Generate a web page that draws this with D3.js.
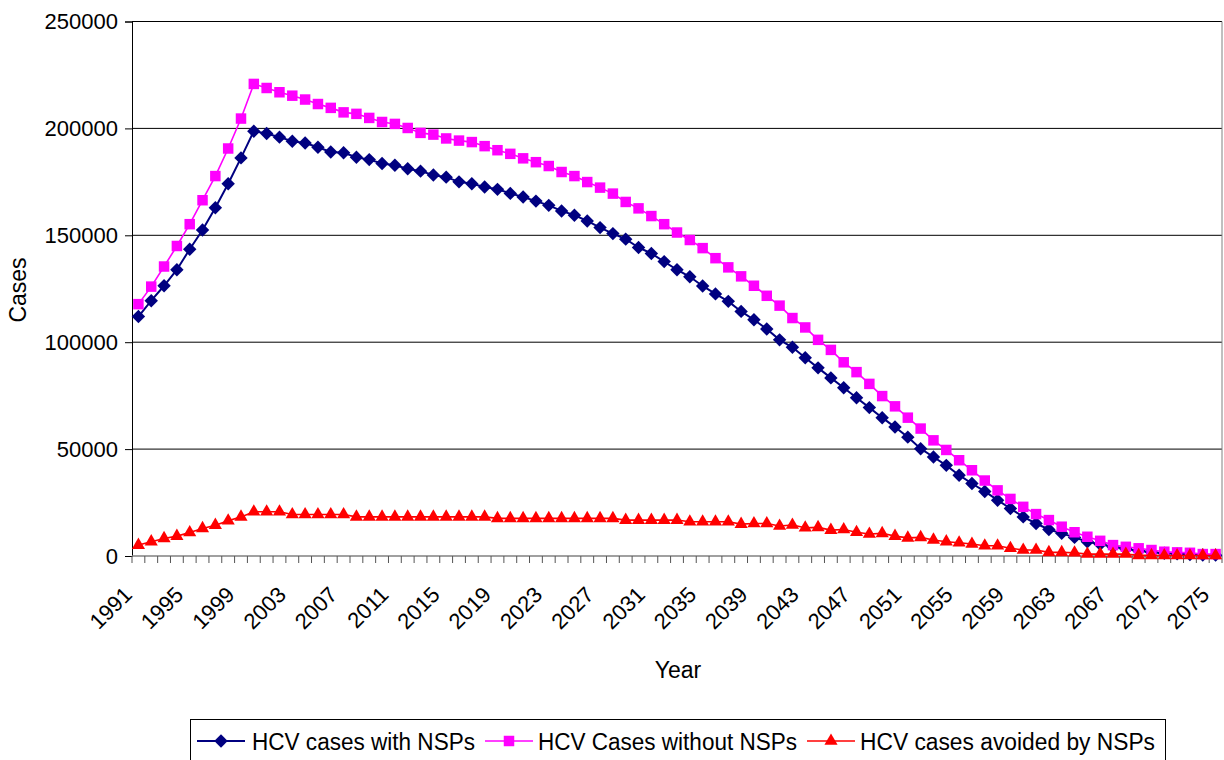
<!DOCTYPE html>
<html>
<head>
<meta charset="utf-8">
<script src="https://cdn.jsdelivr.net/npm/d3@7"></script>
<style>
  body { margin: 0; background: #fff; }
  svg text { font-family: "Liberation Sans", Arial, sans-serif; fill: #000; }
</style>
</head>
<body>
<div id="main"></div>
<script>
'use strict';

// years 1991..2075
var years = [];
for (var yr = 1991; yr <= 2075; yr++) years.push(yr);

// values
var withNSP = [
  112000, 119400, 126400, 133900, 143500, 152500, 162900, 174100, 186200, 198700,
  197600, 195900, 194000, 193200, 191200, 189000, 188600, 186500, 185400, 183600,
  182800, 181100, 180000, 178200, 177200, 175000, 174100, 172600, 171500, 169600,
  167900, 166000, 164000, 161400, 159400, 156700, 153600, 150800, 148200, 144300,
  141500, 137700, 133900, 130600, 126300, 122600, 119100, 114400, 110500, 106200,
  101100, 97600, 92700, 88000, 83300, 78700, 74000, 69400, 64700, 60300,
  55600, 50200, 46300, 42400, 37800, 33900, 30200, 26100, 22200, 18300,
  15200, 12400, 10600, 8700, 6700, 5500, 4300, 3300, 2500, 1800,
  1300, 1000, 700, 500, 400
];
var withoutNSP = [
  117800, 126000, 135400, 145000, 155200, 166400, 177700, 190600, 204600, 220800,
  218900, 216900, 215300, 213500, 211400, 209600, 207500, 206800, 204900, 203000,
  202100, 200200, 197900, 197100, 195300, 194300, 193600, 191700, 189800, 188100,
  186000, 184200, 182400, 179600, 177700, 174900, 172300, 169500, 165600, 162600,
  159000, 155200, 151300, 147800, 144000, 139300, 135000, 130800, 126400, 121700,
  117100, 111300, 106900, 101100, 96400, 90600, 86000, 80500, 74800, 70000,
  64700, 59600, 54100, 49600, 44800, 40100, 35300, 30700, 26700, 23000,
  19600, 16800, 13700, 11100, 9000, 7100, 5100, 4300, 3600, 2800,
  2000, 1700, 1500, 900, 900
];
var avoided = [
  5100, 6700, 8200, 9300, 11000, 12900, 14400, 16500, 18300, 20700,
  20700, 20700, 19400, 19400, 19400, 19400, 19400, 18300, 18300, 18300,
  18300, 18300, 18300, 18300, 18300, 18300, 18300, 18300, 17600, 17600,
  17600, 17600, 17600, 17600, 17600, 17600, 17600, 17600, 16800, 16800,
  16800, 16800, 16800, 16000, 16000, 16000, 16000, 14900, 15200, 15200,
  14000, 14500, 13200, 13400, 12100, 12400, 11100, 10300, 10600, 9300,
  8500, 8700, 7500, 6700, 6200, 5600, 4800, 4800, 3600, 2800,
  2800, 1700, 1700, 1500, 900, 900, 900, 900, 300, 300,
  200, 200, 200, 200, 200
];
var yTicks = [0, 50000, 100000, 150000, 200000, 250000];
var seriesNames = ['HCV cases with NSPs', 'HCV Cases without NSPs', 'HCV cases avoided by NSPs'];

var width = 1224, height = 760;
var plotLeft = 132, plotRight = 1222, plotTop = 21.5, plotBottom = 556;

var svg = d3.select('#main').append('svg')
  .attr('width', width)
  .attr('height', height);

var x = d3.scaleBand().domain(years).range([plotLeft, plotRight]).paddingInner(0).paddingOuter(0);
var y = d3.scaleLinear().domain([0, 250000]).range([plotBottom, plotTop]);
var cx = function (d) { return x(d) + x.bandwidth() / 2; };

// gridlines + y axis
var yAxis = svg.append('g')
  .attr('transform', 'translate(' + plotLeft + ',0)')
  .call(d3.axisLeft(y).tickValues(yTicks).tickSize(7).tickPadding(7).tickFormat(d3.format('d')));
yAxis.selectAll('text').style('font-size', '22px');
yAxis.select('.domain').attr('stroke', '#000');

svg.append('g').selectAll('line').data(yTicks.filter(function (d) { return d > 0; })).enter().append('line')
  .attr('x1', plotLeft).attr('x2', plotRight)
  .attr('y1', function (d) { return y(d); })
  .attr('y2', function (d) { return y(d); })
  .attr('stroke', '#000').attr('stroke-width', 1);

// right border of plot area
svg.append('line')
  .attr('x1', plotRight).attr('x2', plotRight).attr('y1', plotTop).attr('y2', plotBottom)
  .attr('stroke', '#808080');

// x axis
svg.append('line')
  .attr('x1', plotLeft).attr('x2', plotRight).attr('y1', plotBottom).attr('y2', plotBottom)
  .attr('stroke', '#808080').attr('stroke-width', 1.5);
var bounds = years.map(function (d) { return x(d); }).concat([plotRight]);
svg.append('g').selectAll('line').data(bounds).enter().append('line')
  .attr('x1', function (d) { return d; }).attr('x2', function (d) { return d; })
  .attr('y1', plotBottom).attr('y2', plotBottom + 7)
  .attr('stroke', '#555');

svg.append('g').selectAll('text')
  .data(years.filter(function (d, i) { return i % 4 === 0; }))
  .enter().append('text')
  .attr('transform', function (d) { return 'translate(' + (cx(d) - 5) + ',' + (plotBottom + 40) + ') rotate(-45)'; })
  .attr('text-anchor', 'end')
  .style('font-size', '22px')
  .text(function (d) { return d; });

// axis titles
svg.append('text')
  .attr('x', 678).attr('y', 678)
  .attr('text-anchor', 'middle')
  .style('font-size', '23px')
  .text('Year');
svg.append('text')
  .attr('transform', 'translate(26,290) rotate(-90)')
  .attr('text-anchor', 'middle')
  .style('font-size', '23px')
  .text('Cases');

// series
var series = [
  { name: seriesNames[0], values: withNSP, color: '#000080', width: 2, symbol: d3.symbolSquare, size: 90, rotate: 45 },
  { name: seriesNames[1], values: withoutNSP, color: '#FF00FF', width: 1.6, symbol: d3.symbolSquare, size: 110, rotate: 0 },
  { name: seriesNames[2], values: avoided, color: '#FF0000', width: 1.6, symbol: d3.symbolTriangle, size: 75, rotate: 0 }
];

var line = d3.line()
  .x(function (d, i) { return cx(years[i]); })
  .y(function (d) { return y(d); });

series.forEach(function (s) {
  var g = svg.append('g');
  g.append('path')
    .datum(s.values)
    .attr('d', line)
    .attr('fill', 'none')
    .attr('stroke', s.color)
    .attr('stroke-width', s.width);
  g.selectAll('path.mark').data(s.values).enter().append('path')
    .attr('class', 'mark')
    .attr('d', d3.symbol().type(s.symbol).size(s.size))
    .attr('transform', function (d, i) {
      return 'translate(' + cx(years[i]) + ',' + y(d) + ') rotate(' + s.rotate + ')';
    })
    .attr('fill', s.color);
});

// legend
var legend = svg.append('g');
legend.append('rect')
  .attr('x', 190.5).attr('y', 719.5).attr('width', 975).attr('height', 45)
  .attr('fill', '#fff').attr('stroke', '#000');
var legendPos = [
  { lx: 197, tx: 252, tw: 223 },
  { lx: 485, tx: 538, tw: 259 },
  { lx: 807, tx: 860, tw: 295 }
];
series.forEach(function (s, i) {
  var p = legendPos[i];
  var ly = 741;
  legend.append('line')
    .attr('x1', p.lx).attr('x2', p.lx + 48).attr('y1', ly).attr('y2', ly)
    .attr('stroke', s.color).attr('stroke-width', s.width);
  legend.append('path')
    .attr('d', d3.symbol().type(s.symbol).size(s.size))
    .attr('transform', 'translate(' + (p.lx + 24) + ',' + ly + ') rotate(' + s.rotate + ')')
    .attr('fill', s.color);
  legend.append('text')
    .attr('x', p.tx).attr('y', 750)
    .attr('textLength', p.tw)
    .attr('lengthAdjust', 'spacingAndGlyphs')
    .style('font-size', '23px')
    .text(s.name);
});
</script>
</body>
</html>
